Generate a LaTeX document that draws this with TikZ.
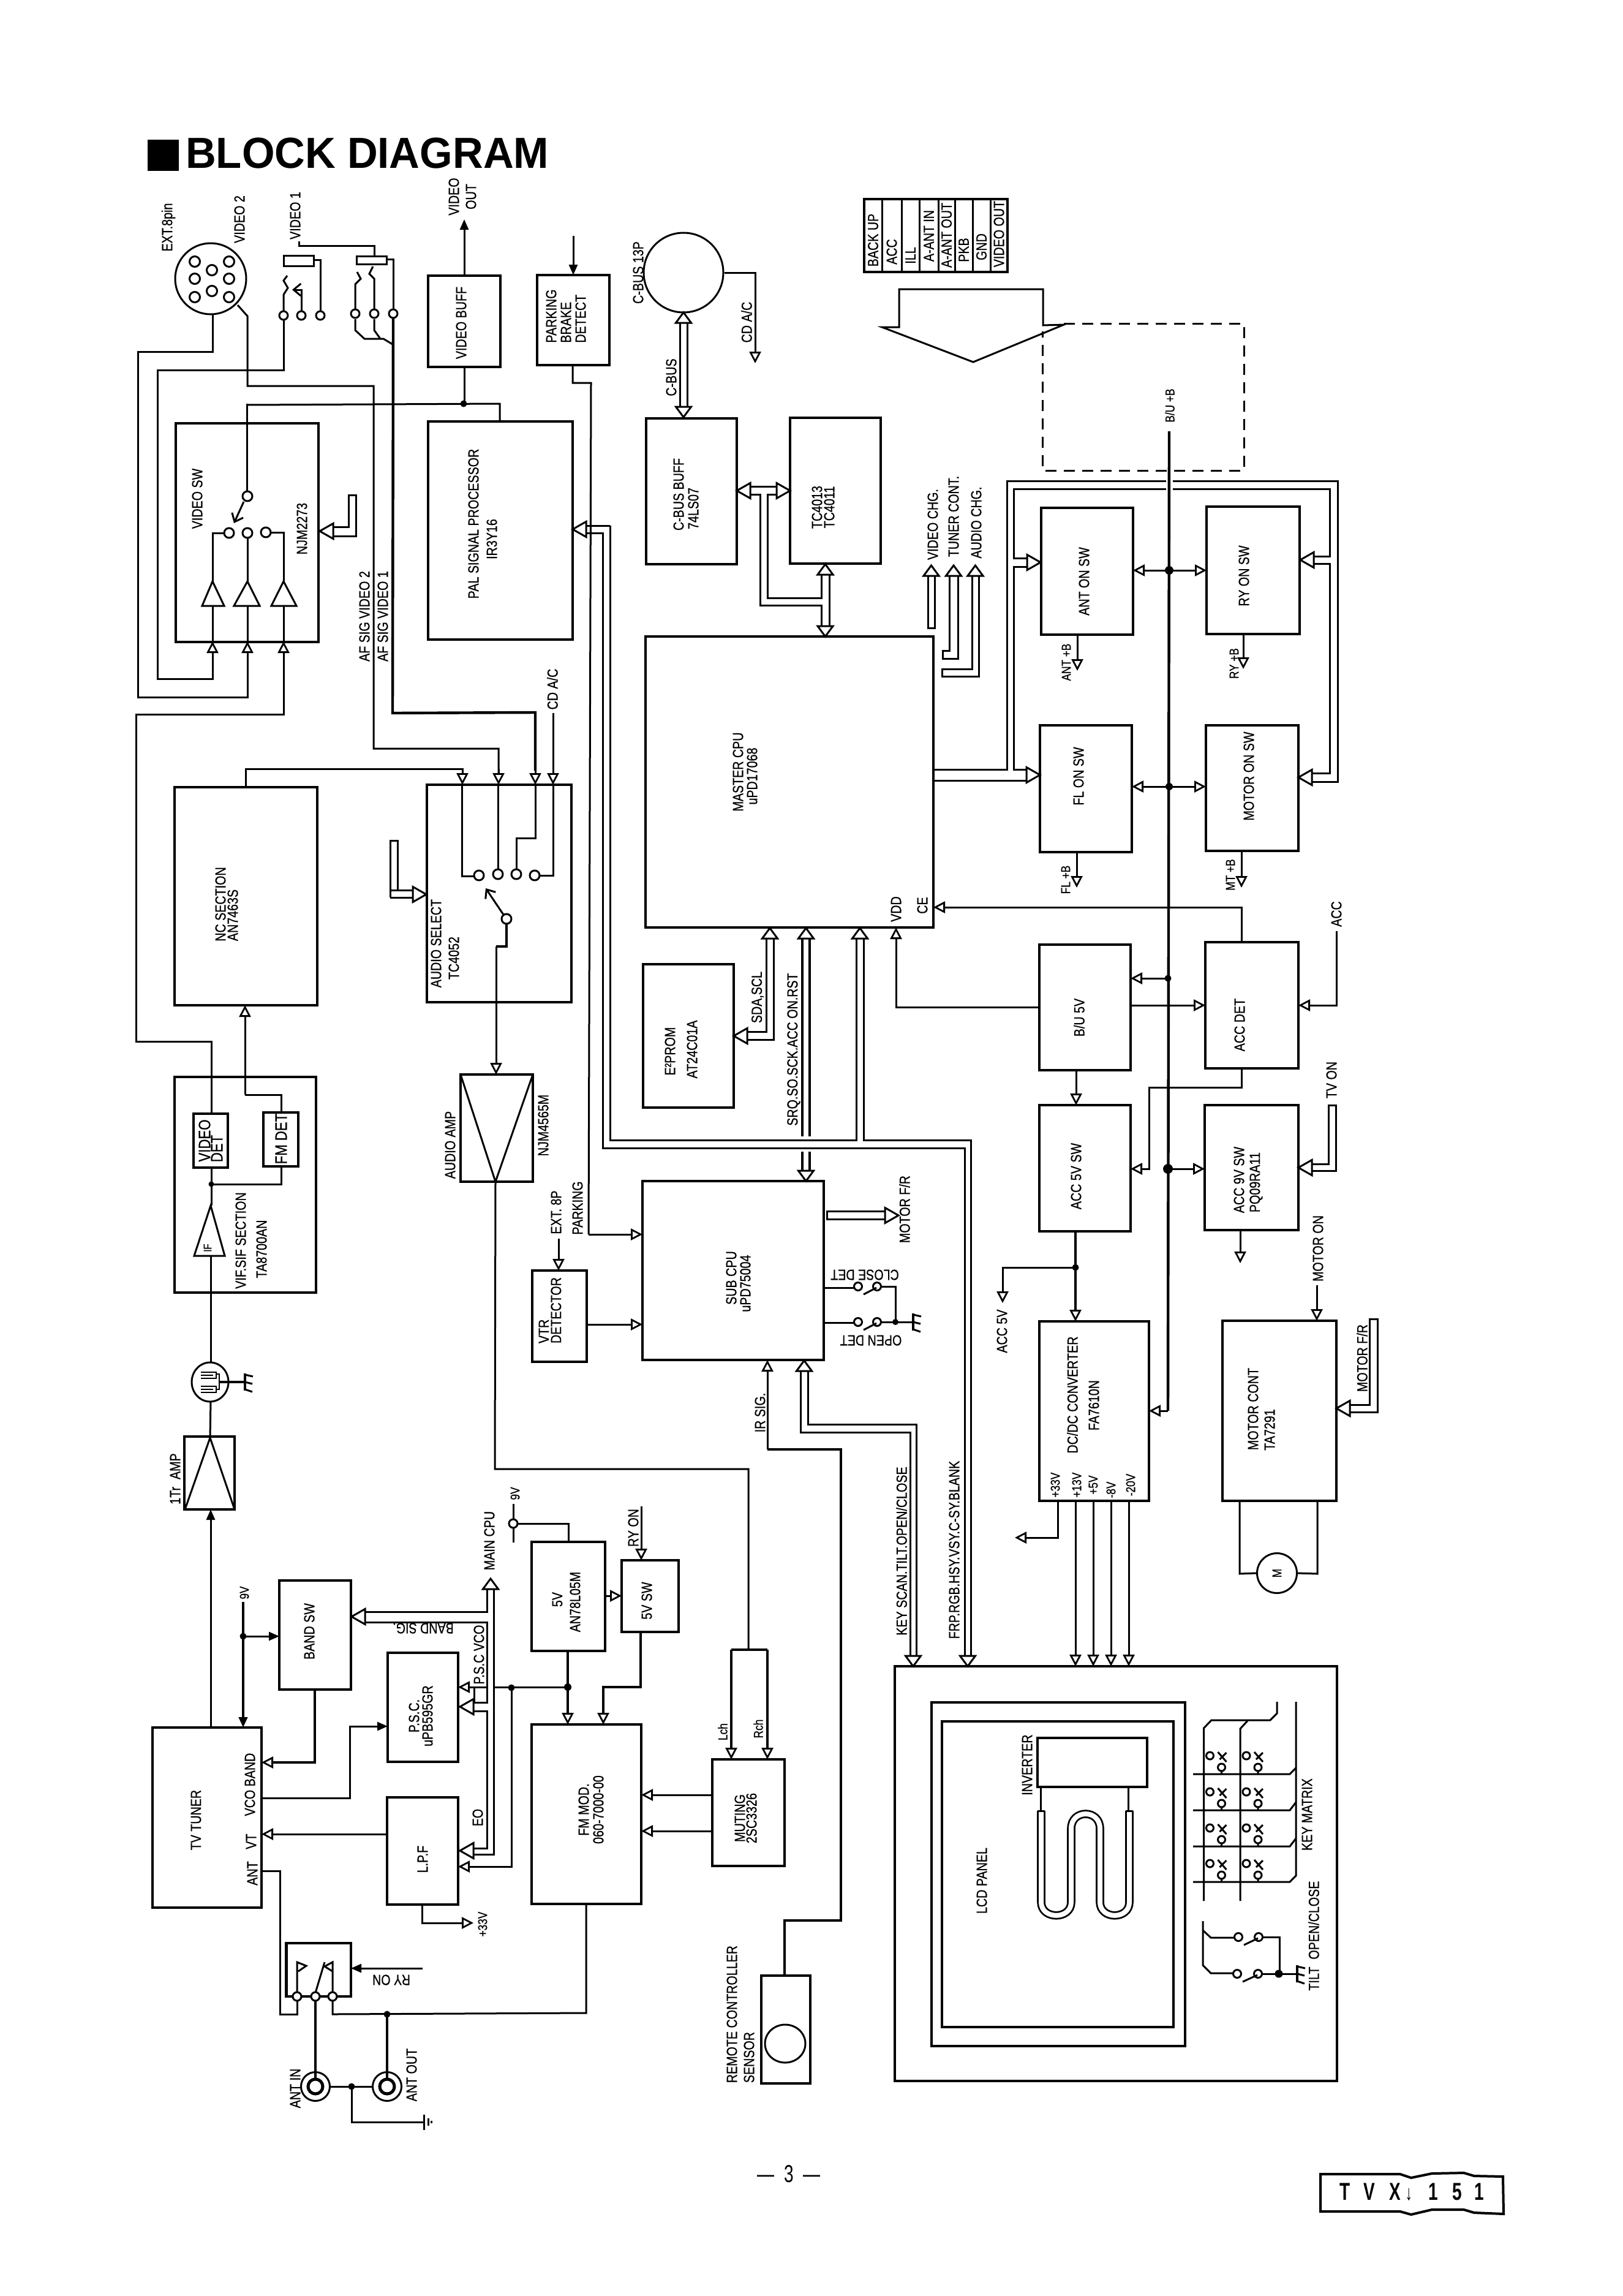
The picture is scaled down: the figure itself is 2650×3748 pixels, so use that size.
\documentclass[tikz,border=0pt]{standalone}
\usepackage{fontspec}
\usetikzlibrary{arrows.meta,calc,shapes.geometric}
\setmainfont{Liberation Sans}[FakeStretch=0.82,FakeBold=0.7]
\newfontfamily\titlef{Liberation Sans Bold}[FakeStretch=0.97]
\newfontfamily\foot{Liberation Sans}[FakeStretch=0.7]
\newcounter{lbn}
\tikzset{
 wire/.style={line width=3pt,line join=miter},
 thk/.style={line width=4.4pt,line join=miter},
 blockst/.style={draw,line width=3.4pt,inner sep=0pt,outer sep=0pt,rectangle},
 lbl/.style={font=\fontsize{24}{28}\selectfont,rotate=90,inner sep=0pt,align=center},
 lbls/.style={lbl,font=\fontsize{21}{24}\selectfont},
 lbll/.style={lbl,font=\fontsize{27}{31}\selectfont},
 lblu/.style={font=\fontsize{24}{28}\selectfont,rotate=180,inner sep=0pt},
 oa/.style={-{Triangle[length=19pt,width=19pt,fill=white,line width=2.8pt]}},
 fa/.style={-{Triangle[length=17pt,width=14pt]}},
 barb/.style={-{Straight Barb[length=12pt,width=20pt,line width=3pt]}},
 bhead/.pic={\draw[fill=white,line width=3pt,line join=miter] (0,0) -- (-22,12.5) -- (-22,-12.5) -- cycle;},
 bheadv/.pic={\draw[fill=white,line width=3pt,line join=miter] (0,0) -- (-17,12.5) -- (-17,-12.5) -- cycle;},
}
\newcommand\PS[2]{(#1,0 |- #2.south)}
\newcommand\PN[2]{(#1,0 |- #2.north)}
\newcommand\PE[2]{(#1.east |- 0,#2)}
\newcommand\PW[2]{(#1.west |- 0,#2)}
\newcommand\blk[6][]{\pgfmathsetmacro\wdt{#4-#2}\pgfmathsetmacro\hgt{#5-#3}\node[blockst,#1,minimum width=\wdt pt,minimum height=\hgt pt] (#6) at ({(#2+#4)/2},{(#3+#5)/2}) {};}
\newcommand\lb[4][lbl]{\stepcounter{lbn}\node[#1] (t\thelbn) at (#2,#3) {#4};}
\newcommand\bhR[2]{\pic at (#1,#2) {bhead};}
\newcommand\bhL[2]{\pic[rotate=180] at (#1,#2) {bhead};}
\newcommand\bhU[2]{\pic[rotate=90] at (#1,#2) {bheadv};}
\newcommand\bhD[2]{\pic[rotate=-90] at (#1,#2) {bheadv};}
\newcommand\jdot[3][5.5]{\fill (#2,#3) circle[radius=#1];}
\newcommand\pin[3][8]{\draw[wire,fill=white] (#2,#3) circle[radius=#1];}
\newcommand\gndr[2]{\draw[thk] (#1,#2-14) -- (#1,#2+14); \draw[wire] (#1,#2-12) -- (#1+13,#2-9) (#1,#2) -- (#1+12,#2+3) (#1,#2+12) -- (#1+12,#2+16);}
\newcommand\keysw[2]{\draw[wire,fill=white] (#1+10,#2-30) circle[radius=6] (#1+29,#2-11) circle[radius=6];
 \draw[wire] (#1+29,#2-5) -- (#1+29,#2) (#1+23,#2-36) -- (#1+37,#2-20) (#1+37,#2-35) -- (#1+26,#2-24);}
\newcommand\contact[4]{\draw[wire,fill=white] (#1,#2) circle[radius=6.5] (#3,#4) circle[radius=6.5];
 \draw[wire] (#1+9,#2+13) -- (#3-1,#4+2);}
\begin{document}
\begin{tikzpicture}[x=1pt,y=-1pt]
\useasboundingbox (0,0) rectangle (2650,3748);
\fill[white] (0,0) rectangle (2650,3748);
% ---------- title and footer
\node[fill,minimum size=51pt,inner sep=0pt] (tsq) at (266,253.5) {};
\node[anchor=west,inner sep=0pt,font=\fontsize{71}{71}\selectfont\titlef] (title) at (303,250) {BLOCK DIAGRAM};
\node[inner sep=0pt,font=\fontsize{40}{40}\selectfont\foot] (pg) at (1288,3549) {—\hspace{16pt}3\hspace{16pt}—};
\node[inner sep=0pt,font=\fontsize{40}{40}\selectfont\foot\bfseries] (model) at (2305,3578) {T\hspace{22pt}V\hspace{24pt}X\,{\fontsize{34}{34}\selectfont↓}\hspace{26pt}1\hspace{24pt}5\hspace{20pt}1};
\draw[line width=4pt] (2156,3549) -- (2286,3549) -- (2304,3555) -- (2338,3548) -- (2390,3547) -- (2407,3552) -- (2454,3553) -- (2455,3614) -- (2407,3612) -- (2390,3607) -- (2338,3607) -- (2304,3615) -- (2286,3610) -- (2156,3610) -- cycle;
% ---------- blocks
\blk{287}{691}{520}{1048}{vsw}
\blk{699}{450}{817}{599}{vbuff}
\blk{877}{449}{995}{596}{park}
\blk{699}{688}{935}{1044}{pal}
\blk{285}{1285}{518}{1641}{nc}
\blk{697}{1281}{933}{1636}{asel}
\blk{285}{1758}{516}{2110}{vif}
\blk{316}{1818}{372}{1906}{vdet}
\blk{430}{1816}{487}{1904}{fmdet}
\blk{752}{1754}{870}{1929}{aamp}
\blk{301}{2345}{383}{2464}{tramp}
\blk{249}{2820}{427}{3114}{tuner}
\blk{456}{2580}{573}{2758}{bandsw}
\blk{633}{2698}{748}{2876}{psc}
\blk{632}{2934}{748}{3109}{lpf}
\blk{467}{3172}{573}{3259}{relay}
\blk{868}{2517}{988}{2695}{reg}
\blk{1015}{2547}{1108}{2664}{sw5}
\blk{868}{2815}{1047}{3108}{fmmod}
\blk{1163}{2872}{1281}{3046}{muting}
\blk{1243}{3225}{1323}{3401}{remote}
\blk{869}{2074}{958}{2223}{vtr}
\blk{1049}{1928}{1345}{2220}{subcpu}
\blk{1050}{1574}{1198}{1808}{eprom}
\blk{1054}{1039}{1524}{1514}{master}
\blk{1055}{683}{1203}{921}{cbuff}
\blk{1290}{682}{1438}{920}{tc}
\blk{1700}{829}{1850}{1036}{antsw}
\blk{1970}{827}{2122}{1035}{rysw}
\blk{1698}{1184}{1848}{1391}{flsw}
\blk{1969}{1184}{2120}{1389}{motsw}
\blk{1697}{1542}{1846}{1747}{bu5}
\blk{1968}{1538}{2120}{1744}{accdet}
\blk{1697}{1804}{1846}{2010}{acc5}
\blk{1967}{1804}{2120}{2008}{acc9}
\blk{1697}{2157}{1876}{2450}{dcdc}
\blk{1996}{2156}{2182}{2450}{motc}
\blk{1461}{2720}{2183}{3397}{lcdo}
\blk{1521}{2779}{1935}{3340}{lcdm}
\blk{1538}{2810}{1916}{3309}{lcdi}
\blk{1694}{2837}{1873}{2917}{inv}
\blk{1411}{325}{1645}{444}{tab}
\node[draw,line width=3pt,circle,minimum size=116pt,inner sep=0pt] (ext) at (344,455) {};
\node[draw,line width=3pt,circle,minimum size=130pt,inner sep=0pt] (cbusc) at (1116,445) {};
\node[draw,line width=3pt,ellipse,minimum width=60pt,minimum height=64pt,inner sep=0pt] (filt) at (343,2256) {};
\node[draw,line width=3pt,circle,minimum size=65pt,inner sep=0pt] (mot) at (2085,2568) {};
\node[draw,line width=3pt,ellipse,minimum width=66pt,minimum height=62pt,inner sep=0pt] (irs) at (1282,3336) {};
% ---------- EXT connector pins
\foreach \px/\py in {318/427,374/427,346/441,318/455,374/455,346/475,318/485,374/485}{\draw[wire] (\px,\py) circle[radius=8.5];}
% ---------- connector table
\foreach \sx in {1440,1472,1501,1532,1559,1588,1617}{\draw[wire] (\sx,0 |- tab.north) -- (\sx,0 |- tab.south);}
\lb{1425.5}{392}{BACK UP}\lb{1456}{411}{ACC}\lb{1486.5}{417}{ILL}\lb{1516.5}{385}{A-ANT IN}
\lb{1545.5}{384}{A-ANT OUT}\lb{1573.5}{408}{PKB}\lb{1602.5}{403}{GND}\lb{1631}{382}{VIDEO OUT}
% ---------- big harness arrow and dashed frame
\draw[wire] (1468,534) -- (1468,472) -- (1703,472) -- (1703,531) -- (1737,530) -- (1589,591) -- (1440,534) -- cycle;
\draw[wire,dash pattern=on 18pt off 12pt] (1737,528) -- (2031,528) -- (2031,768) -- (1702,768) -- (1702,541);
% ---------- video input wiring
\draw[wire] (347,513) -- (347,574) -- (225,574) -- (225,1138) -- (404,1138) -- (404,1067);
\draw[wire] (388,498) -- (404,516) -- (404,630) -- (610,630) -- (610,1222) -- (814,1222) -- (814,1262);
\draw[wire,oa] (814,1255) -- \PN{814}{asel};
\draw[wire] (463,523) -- (463,604) -- (257,604) -- (257,1108) -- (347,1108) -- (347,1067);
\draw[wire] \PN{345}{vdet} -- (345,1700) -- (222,1700) -- (222,1166) -- (463,1166) -- (463,1067);
\foreach \qx in {347,404,463}{\draw[oa,wire] (\qx,1075) -- (\qx,1047);}
\foreach \qx/\qa/\qb in {347/330/366,404/382/424,463/443/484}{
  \draw[wire] (\qx,949) -- (\qa,989) -- (\qb,989) -- cycle;
  \draw[wire] (\qx,1048) -- (\qx,989);}
\draw[wire] (347,949) -- (347,870) -- (366,870) (404,949) -- (404,878) (463,949) -- (463,869) -- (442,869);
\pin{374}{870}\pin{404}{870}\pin{434}{869}
\draw[wire] (403,659) -- (403,802);\pin{404}{810}
\draw[wire,barb] (398,819) -- (382,854);
\draw[wire] (403,661) -- (816,659) -- (816,0 |- pal.north);
\jdot{757}{659}
\draw[wire] \PS{758}{vbuff} -- (758,659);
\draw[wire,fa] \PN{758}{vbuff} -- (758,358);
\draw[wire,fa] (936,385) -- \PN{936}{park};
% jack 1
\draw[wire] (488,394) -- (488,401) -- (611,401) -- (611,417);
\draw[wire] (463,417) rectangle (512,434);
\draw[wire] (582,418) rectangle (631,431);
\draw[wire] (512,424) -- (523,424) -- (523,507);
\draw[wire] (631,423) -- (642,423) -- (642,504);
\draw[wire] (463,507) -- (463,481) -- (470,470) -- (463,458) -- (469,450);
\draw[wire,barb] (492,507) -- (492,473) -- (477,473);
\draw[wire] (580,504) -- (580,464) -- (589,455) -- (583,444);
\draw[wire] (611,504) -- (611,455) -- (603,447) -- (609,435);
\draw[wire] (580,521) -- (580,539) -- (595,553) -- (626,553) -- (641,562);
\draw[wire] (611,521) -- (611,539) -- (621,553);
\draw[thk] (642,520) -- (641,1164) -- (874,1163) -- (874,1258);
\draw[wire,oa] (874,1255) -- \PN{874}{asel};
\foreach \px/\py in {463/515,492/515,523/515,580/512,611/512,642/512}{\pin[7]{\px}{\py}}
% video SW control bus
\draw[wire] (540,860) -- (569,860) -- (569,808) -- (581,808) -- (581,875) -- (540,875);
\bhL{522}{867}
% ---------- NC / audio
\draw[wire,oa] \PN{401}{nc} -- (401,1255) -- (755,1255) -- \PN{755}{asel};
\draw[wire,oa] (400,1787) -- (400,1641);
\draw[wire] \PN{459}{fmdet} -- (459,1787) -- (400,1787);
\draw[wire] \PS{459}{fmdet} -- (459,1933) -- (345,1933);
\draw[wire] \PS{345}{vdet} -- (345,1968);
\jdot[4.5]{345}{1933}
\draw[wire] (344,1968) -- (317,2050) -- (367,2050) -- cycle;
\draw[wire] (344,2050) -- (344,0 |- filt.north);
\lb[lbls,font=\fontsize{18}{18}\selectfont]{339}{2037}{IF}
\draw[wire] (675,1453) -- (637,1453) -- (637,1372) -- (649,1372) -- (649,1453);
\draw[wire] (637,1465) -- (675,1465);
\draw[wire] (637,1453) -- (637,1465);
\bhR{696}{1460}
\draw[wire,oa] (903,1164) -- \PN{903}{asel};
\draw[wire] (754,1281) -- (754,1430) -- (775,1430);
\draw[wire] (813,1281) -- (813,1420);
\draw[wire] (874,1281) -- (874,1368) -- (843,1368) -- (843,1420);
\draw[wire] (903,1281) -- (903,1429) -- (880,1429);
\pin{782}{1429}\pin{813}{1427}\pin{843}{1427}\pin{873}{1429}
\pin{827}{1500}
\draw[wire,barb] (822,1493) -- (793,1450);
\draw[thk] (827,1508) -- (827,1545) -- (810,1545);
\draw[wire,oa] (810,1545) -- \PN{810}{aamp};
\draw[wire] (752,1754) -- (809,1929) -- (870,1754);
\draw[wire] (809,1929) -- (808,2398) -- (1222,2398) -- (1222,2693);
\draw[thk] (1194,2693) -- (1253,2693);
\draw[thk,oa] (1194,2693) -- \PN{1194}{muting};
\draw[thk,oa] (1253,2693) -- \PN{1253}{muting};
\draw[wire,oa] \PW{muting}{2930} -- \PE{fmmod}{2930};
\draw[wire,oa] \PW{muting}{2989} -- \PE{fmmod}{2989};
% ---------- tuner section
\draw[wire] (344,2288) -- (343,2347);
\draw[wire] (343,2347) -- (302,2464) (343,2347) -- (383,2464);
\draw[wire,fa] \PN{344}{tuner} -- \PS{344}{tramp};
\draw[thk] (358,2256) -- (400,2256);
\gndr{400}{2256}
\draw[line width=2.8pt] (328,2240) -- (353,2240) -- (353,2250) -- (328,2250) (328,2245) -- (348,2245) (328,2263) -- (353,2263) -- (353,2273) -- (328,2273) (328,2268) -- (348,2268) (353,2243) -- (358,2243) -- (358,2268) -- (353,2268);
\draw[thk,fa] (397,2615) -- \PN{397}{tuner};
\draw[wire,fa] (397,2671) -- \PW{bandsw}{2671};
\jdot{397}{2671}
\draw[thk,oa] \PS{514}{bandsw} -- (514,2877) -- \PE{tuner}{2877};
\draw[wire,fa] \PE{tuner}{2935} -- (571,2935) -- (571,2818) -- \PW{psc}{2818};
\draw[wire,oa] \PW{lpf}{2994} -- \PE{tuner}{2994};
\draw[wire] \PE{tuner}{3054} -- (457,3054) -- (457,3288) -- (485,3288) -- (485,3265);
% bus
\draw[wire] (595,2648) -- (795,2648) -- (795,2779) -- (771,2779);
\draw[wire] (771,2793) -- (795,2793) -- (795,3017) -- (771,3017);
\draw[wire] (771,3027) -- (806,3027) -- (806,2594);
\draw[wire] (595,2631) -- (795,2631) -- (795,2594);
\bhU{801}{2577}\bhL{574}{2639}\bhL{751}{2786}\bhL{751}{3021}
\draw[wire,oa] (795,2754) -- \PE{psc}{2754};
\draw[wire] (774,2754) -- (774,2779);
\draw[wire,oa] (835,2755) -- (835,3047) -- \PE{lpf}{3047};
\jdot{835}{2755}
\draw[wire] (806,2754) -- (927,2754);
\jdot[6]{927}{2754}
\draw[wire] (838,2455) -- (838,2518);
\draw[wire] (838,2487) -- (928,2487) -- \PN{928}{reg};
\pin[7]{838}{2487}
\draw[thk,oa] \PS{927}{reg} -- \PN{927}{fmmod};
\draw[wire,oa] \PE{reg}{2605} -- \PW{sw5}{2605};
\draw[thk,oa] \PS{1046}{sw5} -- (1046,2754) -- (985,2754) -- \PN{985}{fmmod};
\draw[wire,oa] (1047,2459) -- \PN{1047}{sw5};
\draw[wire,oa] \PS{689}{lpf} -- (689,3139) -- (773,3139);
% relay
\draw[thk] (468,3172) -- (468,3259);
\draw[wire] (485,3259) -- (485,3203) -- (500,3209) -- (487,3218);
\draw[wire] (515,3253) -- (530,3203);
\draw[wire] (543,3259) -- (543,3203) -- (530,3210) -- (543,3218);
\draw[wire,fa] (690,3213) -- \PE{relay}{3213};
\pin[7]{485}{3259}\pin[7]{515}{3259}\pin[7]{543}{3259}
\draw[thk] (515,3265) -- (515,3394);
\draw[wire] (543,3265) -- (543,3288) -- (957,3286) -- \PS{957}{fmmod};
\jdot{632}{3288}
\draw[thk] (632,3288) -- (632,3394);
\draw[line width=5pt] (515,3406) circle[radius=12] (632,3406) circle[radius=12];
\draw[wire] (515,3406) circle[radius=23.5] (632,3406) circle[radius=23.5];
\draw[wire] (538,3406) -- (608,3406);
\jdot{574}{3406}
\draw[wire] (574,3406) -- (574,3464) -- (692,3464);
\draw[wire] (692,3452) -- (692,3477);
\draw[wire] (699,3458) -- (699,3470);
\draw[wire] (704,3462) -- (704,3466);
% ---------- remote / IR / sub CPU
\draw[thk] \PN{1281}{remote} -- (1281,3135) -- (1373,3135) -- (1373,2366) -- (1253,2366);
\draw[wire,oa] (1253,2366) -- \PS{1253}{subcpu};
\draw[wire] (996,858) -- (996,1861) -- (1398,1861) -- (1398,1532);
\draw[wire] (958,858) -- (996,858);
\draw[wire] (958,870) -- (984,870) -- (984,1874) -- (1575,1874) -- (1575,2703);
\draw[wire] (1410,1532) -- (1410,1861) -- (1585,1861) -- (1585,2703);
\bhL{935}{864}\bhU{1404}{1515}\bhD{1580}{2720}
\draw[wire] \PS{935}{park} -- (935,625) -- (965,625) -- (961,2015);
\draw[wire,oa] (961,2015) -- \PW{subcpu}{2015};
\draw[wire,oa] \PE{vtr}{2162} -- \PW{subcpu}{2162};
\draw[wire,oa] (912,2022) -- \PN{912}{vtr};
% SRQ bus
\draw[thk] (1310,1532) -- (1310,1855) (1322,1532) -- (1322,1855) (1310,1880) -- (1310,1911) (1322,1880) -- (1322,1911);
\bhU{1316}{1515}\bhD{1316}{1928}
% SDA bus
\draw[wire] (1251,1532) -- (1251,1684) -- (1219,1684);
\draw[wire] (1263,1532) -- (1263,1697) -- (1219,1697);
\bhU{1257}{1515}\bhL{1198}{1691}
% key-scan bus
\draw[wire] (1307,2238) -- (1307,2338) -- (1486,2338) -- (1486,2703);
\draw[wire] (1319,2238) -- (1319,2325) -- (1496,2325) -- (1496,2703);
\bhU{1313}{2221}\bhD{1491}{2720}
% motor F/R out
\draw[wire] (1444,1977) -- (1350,1977) -- (1350,1990) -- (1444,1990);
\bhR{1467}{1984}
% open / close det
\draw[wire] \PE{subcpu}{2102} -- (1395,2102);
\draw[wire] \PE{subcpu}{2159} -- (1395,2159);
\contact{1401}{2100}{1432}{2100}
\contact{1401}{2158}{1432}{2158}
\draw[wire] (1439,2100) -- (1462,2100) -- (1462,2158);
\draw[wire] (1439,2158) -- (1490,2158);
\jdot[5]{1462}{2158}
\gndr{1491}{2158}
% ---------- master CPU
\draw[wire,oa] (cbusc.east) -- (1233,445) -- (1233,593);
\draw[wire] (1110,527) -- (1110,664) (1122,527) -- (1122,664);
\bhU{1116}{510}\bhD{1116}{681}
\draw[wire] (1223,794) -- (1270,794);
\draw[wire] (1223,807) -- (1241,807) -- (1241,988) -- (1341,988) -- (1341,1022);
\draw[wire] (1270,807) -- (1253,807) -- (1253,976) -- (1341,976) -- (1341,938);
\draw[wire] (1354,938) -- (1354,1022);
\bhL{1203}{801}\bhR{1290}{801}\bhU{1347.5}{921}\bhD{1347.5}{1039}
% chg buses
\draw[wire] (1515,940) -- (1515,1025) -- (1526,1025) -- (1526,940);\bhU{1520.5}{923}
\draw[wire] (1550,940) -- (1550,1062) -- (1539,1062) -- (1539,1075) -- (1564,1075) -- (1564,940);\bhU{1557}{923}
\draw[wire] (1587,940) -- (1587,1092) -- (1538,1092) -- (1538,1104) -- (1598,1104) -- (1598,940);\bhU{1592.5}{923}
% ---------- on-switch harness
\draw[wire] (1524,1256) -- (1644,1256) -- (1644,785) -- (1904,785) (1915,785) -- (2184,785) -- (2184,1276) -- (2142,1276);
\draw[wire] (1678,1256) -- (1655,1256) -- (1655,925) -- (1678,925);
\draw[wire] (1678,911) -- (1655,911) -- (1655,798) -- (1904,798) (1915,798) -- (2171,798) -- (2171,908) -- (2144,908);
\draw[wire] (2144,920) -- (2171,920) -- (2171,1262) -- (2142,1262);
\draw[wire] (1524,1274) -- (1678,1274);
\bhR{1699}{918}\bhL{2123}{914}\bhR{1698}{1265}\bhL{2120}{1269}
\draw[thk] (1909,704) -- (1907,2303);
\draw[wire,oa] (1907,2303) -- \PE{dcdc}{2303};
\jdot[7]{1909}{931}\jdot[6]{1909}{1284}
\draw[wire,oa] (1909,931) -- \PE{antsw}{931};
\draw[wire,oa] (1909,931) -- \PW{rysw}{931};
\draw[wire,oa] (1908,1284) -- \PE{flsw}{1284};
\draw[wire,oa] (1908,1284) -- \PW{motsw}{1284};
\draw[wire,oa] \PS{1759}{antsw} -- (1759,1095);
\draw[wire,oa] \PS{2030}{rysw} -- (2030,1092);
\draw[wire,oa] \PS{1758}{flsw} -- (1758,1449);
\draw[wire,oa] \PS{2027}{motsw} -- (2027,1449);
% power blocks
\draw[wire,oa] \PN{2027}{accdet} -- (2027,1481) -- \PE{master}{1481};
\draw[wire,oa] \PW{bu5}{1644} -- (1463,1644) -- \PS{1463}{master};
\jdot{1907}{1597}
\draw[wire,oa] (1907,1597) -- \PE{bu5}{1597};
\draw[wire,oa] \PE{bu5}{1641} -- \PW{accdet}{1641};
\draw[wire,oa] \PS{1757}{bu5} -- \PN{1757}{acc5};
\draw[wire,oa] \PS{2027}{accdet} -- (2027,1775) -- (1876,1775) -- (1876,1908) -- \PE{acc5}{1908};
\draw[wire,oa] (2182,1520) -- (2182,1641) -- \PE{accdet}{1641};
\draw[wire] (2140,1900) -- (2169,1900) -- (2169,1804) -- (2181,1804) -- (2181,1911) -- (2140,1911);
\bhL{2120}{1906}
\jdot[8]{1907}{1908}
\draw[wire,oa] (1907,1908) -- \PW{acc9}{1908};
\draw[wire,oa] \PS{2025}{acc9} -- (2025,2062);
\draw[thk,oa] \PS{1756}{acc5} -- \PN{1756}{dcdc};
\jdot{1756}{2069}
\draw[wire,oa] (1756,2069) -- (1637,2069) -- (1637,2127);
\draw[wire,oa] \PS{1727}{dcdc} -- (1727,2510) -- (1657,2510);
\foreach \ox in {1756,1785,1814,1843}{\draw[wire,oa] (\ox,0 |- dcdc.south) -- (\ox,0 |- lcdo.north);}
\draw[wire] \PS{2024}{motc} -- (2024,2569) -- (mot.west);
\draw[wire] (mot.east) -- (2151,2569) -- \PS{2151}{motc};
\draw[wire,oa] (2150,2098) -- \PN{2150}{motc};
\draw[wire] (2203,2293) -- (2236,2293) -- (2236,2153) -- (2249,2153) -- (2249,2305) -- (2203,2305);
\bhL{2182}{2299}
% ---------- LCD
\draw[wire] \PS{1699}{inv} -- (1699,2956);
\draw[wire] \PS{1842}{inv} -- (1842,2956);
\draw[line width=2.8pt,double,double distance=8pt] (1700,2956) -- (1700,3105) .. controls (1700,3134) and (1749,3134) .. (1749,3105) -- (1749,2985) .. controls (1749,2953) and (1796,2953) .. (1796,2985) -- (1796,3105) .. controls (1796,3134) and (1844,3134) .. (1844,3105) -- (1844,2956);
\draw[wire] (1694,2956) -- (1706,2956) (1838,2956) -- (1850,2956);
\draw[wire] (1965.5,3103) -- (1965.5,2821) -- (1978,2808) -- (2074,2808) -- (2085,2797) -- (2085,2778);
\draw[wire] (2025,3103) -- (2025,2822) -- (2037,2809);
\draw[wire] (2116,2778) -- (2116,3062) -- (2106,3072) -- (1948,3072);
\draw[wire] (1948,2896) -- (2106,2896) -- (2116,2886);
\draw[wire] (1948,2955) -- (2106,2955) -- (2116,2942);
\draw[wire] (1948,3014) -- (2106,3014) -- (2116,3001);
\foreach \kx in {1965.5,2025}{\foreach \ky in {2896,2955,3014,3072}{\keysw{\kx}{\ky}}}
\draw[wire] (1964,3136) -- (1964,3208) -- (1977,3221) -- (2014,3221);
\draw[wire] (1964,3151) -- (1977,3163) -- (2015,3163);
\contact{2022}{3162}{2055}{3162}
\contact{2020}{3222}{2054}{3222}
\draw[wire] (2062,3162) -- (2089,3162) -- (2089,3222);
\draw[wire] (2061,3222) -- (2117,3222);
\jdot[6.5]{2088}{3222}
\gndr{2118}{3222}
% ---------- labels
\lb{275}{371}{EXT.8pin}\lb{391}{358}{VIDEO 2}\lb{482}{352}{VIDEO 1}
\lb{755}{321}{VIDEO\\OUT}\lb[lbl,font=\fontsize{24}{24}\selectfont,align=left]{924}{516}{PARKING\\BRAKE\\DETECT}
\lb{753}{527}{VIDEO BUFF}\lb{322}{814}{VIDEO SW}\lb{493}{863}{NJM2273}
\lb{773}{855}{PAL SIGNAL PROCESSOR}\lb{803}{880}{IR3Y16}
\lb{595}{1006}{AF SIG VIDEO 2}\lb{625}{1006}{AF SIG VIDEO 1}\lb{902}{1125}{CD A/C}
\lb{360}{1476}{NC SECTION}\lb{380}{1494}{AN7463S}
\lb{712}{1540}{AUDIO SELECT}\lb{741}{1564}{TC4052}
\lb[lbll]{334}{1862}{VIDEO}\lb[lbll]{354}{1875}{DET}\lb[lbll]{459}{1859}{FM DET}
\lb{393}{2025}{VIF.SIF SECTION}\lb{427}{2039}{TA8700AN}
\lb{735}{1869}{AUDIO AMP}\lb{887}{1837}{NJM4565M}
\lb{908}{1979}{EXT. 8P}\lb{943}{1972}{PARKING}
\lb[lbl,font=\fontsize{24}{20}\selectfont,align=left]{898}{2139}{VTR\\DETECTOR}
\lb{286}{2414}{1Tr\enspace AMP}\lb[lbls]{399}{2600}{9V}
\lb{320}{2971}{TV TUNER}\lb{408}{2913}{VCO BAND}\lb{410}{3006}{VT}\lb{412}{3058}{ANT}
\lb{505}{2663}{BAND SW}\lb{676}{2801}{P.S.C.}\lb{698}{2801}{uPB595GR}\lb{690}{3035}{L.P.F}
\lb{782}{2701}{P.S.C VCO}\lb{780}{2967}{EO}\lb[lblu]{691}{2658}{BAND SIG.}
\lb[lbls]{788}{3141}{+33V}\lb[lblu]{639}{3232}{RY ON}\lb{482}{3409}{ANT IN}\lb{672}{3387}{ANT OUT}
\lb{799}{2515}{MAIN CPU}\lb[lbls]{841}{2438}{9V}\lb{910}{2611}{5V}\lb{939}{2615}{AN78L05M}
\lb{1056}{2613}{5V SW}\lb{1034}{2494}{RY ON}
\lb{953}{2954}{FM MOD.}\lb{977}{2954}{060-7000-00}
\lb{1208}{2968}{MUTING}\lb{1227}{2968}{2SC3326}\lb[lbls]{1180}{2827}{Lch}\lb[lbls]{1238}{2822}{Rch}
\lb[lbl,align=left]{1209}{3288}{REMOTE CONTROLLER\\SENSOR}
\lb{1472}{2532}{KEY SCAN.TILT.OPEN/CLOSE}\lb{1558}{2530}{FRP.RGB.HSY.VSY.C-SY.BLANK}
\lb{1241}{2306}{IR SIG.}\lb{1194}{2086}{SUB CPU}\lb{1217}{2095}{uPD75004}
\lb{1477}{1974}{MOTOR F/R}\lb[lblu]{1412}{2081}{CLOSE DET}\lb[lblu]{1422}{2188}{OPEN DET}
\lb{1094}{1716}{E²PROM}\lb{1130}{1713}{AT24C01A}\lb{1237}{1628}{SDA,SCL}\lb{1296}{1713}{SRQ.SO.SCK.ACC ON.RST}
\lb{1205}{1260}{MASTER CPU}\lb{1228}{1267}{uPD17068}\lb{1463}{1484}{VDD}\lb{1506}{1478}{CE}
\lb{1108}{807}{C-BUS BUFF}\lb{1132}{830}{74LS07}\lb{1334}{828}{TC4013}\lb{1354}{828}{TC4011}
\lb{1096}{616}{C-BUS}\lb{1042}{445}{C-BUS 13P}\lb{1219}{526}{CD A/C}
\lb{1523}{856}{VIDEO CHG.}\lb{1557}{843}{TUNER CONT.}\lb{1594}{853}{AUDIO CHG.}
\lb[lbls]{1910}{662}{B/U +B}\lb{1770}{949}{ANT ON SW}\lb{2031}{940}{RY ON SW}
\lb{1761}{1267}{FL ON SW}\lb{2039}{1267}{MOTOR ON SW}
\lb[lbls]{1741}{1081}{ANT +B}\lb[lbls]{2015}{1083}{RY +B}\lb[lbls]{1740}{1436}{FL +B}\lb[lbls]{2009}{1428}{MT +B}
\lb{1762}{1661}{B/U 5V}\lb{2024}{1673}{ACC DET}\lb{2182}{1492}{ACC}
\lb{1757}{1920}{ACC 5V SW}\lb{2023}{1926}{ACC 9V SW}\lb{2051}{1930}{PQ09RA11}\lb{2174}{1763}{TV ON}
\lb{1636}{2173}{ACC 5V}\lb{1751}{2277}{DC/DC CONVERTER}\lb{1786}{2294}{FA7610N}
\lb[lbls]{1723}{2424}{+33V}\lb[lbls]{1758}{2424}{+13V}\lb[lbls]{1785}{2424}{+5V}\lb[lbls]{1814}{2432}{-8V}\lb[lbls]{1846}{2424}{-20V}
\lb{2152}{2038}{MOTOR ON}\lb{2046}{2300}{MOTOR CONT}\lb{2073}{2334}{TA7291}\lb{2224}{2217}{MOTOR F/R}\lb[lbls]{2085}{2568}{M}
\lb{1677}{2881}{INVERTER}\lb{1603}{3070}{LCD PANEL}\lb{2134}{2962}{KEY MATRIX}\lb{2145}{3160}{TILT\enspace OPEN/CLOSE}
\end{tikzpicture}
\end{document}
